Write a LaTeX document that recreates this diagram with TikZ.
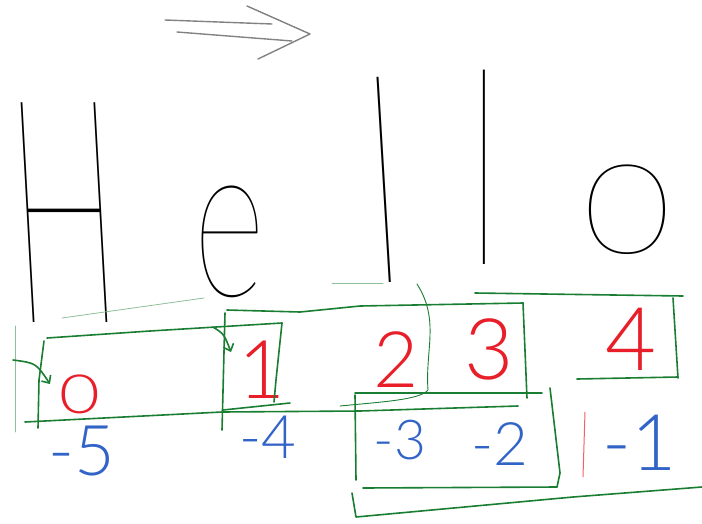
\documentclass[tikz,border=0pt]{standalone}
\usepackage{fontspec}
\usetikzlibrary{arrows.meta}
\IfFontExistsTF{Lato Hairline}{\newfontfamily\hairfont{Lato Hairline}}{\newfontfamily\hairfont{DejaVu Sans}}
\IfFontExistsTF{Lato Light}{\newfontfamily\lightfont{Lato Light}}{\newfontfamily\lightfont{Lato}}
\newcommand{\setsz}[1]{\fontsize{#1}{#1}\selectfont}
\definecolor{inkred}{RGB}{232,30,40}
\definecolor{inkblue}{RGB}{50,100,200}
\definecolor{inkgreen}{RGB}{25,125,50}
\definecolor{inkgray}{RGB}{130,130,130}

\begin{document}
\begin{tikzpicture}[
  x=1pt,y=-1pt,
  letter/.style={inner sep=0pt, transform shape, font=\hairfont},
  idx/.style={inner sep=0pt, transform shape, text=inkred, font=\lightfont},
  neg/.style={inner sep=0pt, text=inkblue, font=\lightfont},
  ink/.style={draw=inkgreen, line width=1.6pt, line cap=round, line join=round},
  faint/.style={draw=inkgreen!50, line width=0.8pt, line cap=round},
  hook/.style={ink, -{Straight Barb[length=6pt,width=11pt]}},
  arrowink/.style={draw=inkgray, line width=1.4pt, line cap=round, line join=round}
]
\useasboundingbox (0,0) rectangle (702,523);

% -------------------------
% direction of reading
% -------------------------
\draw[arrowink] (165,20) -- (272,24);
\draw[arrowink] (177,32) -- (292,41);
\draw[arrowink] (247,6) -- (310,34) -- (258,59);

% -------------------------
% the word
% -------------------------
\node[letter, xscale=0.46, xslant=-0.12] (L_H) at (64,213) {\setsz{314}H};
\node[letter, xscale=0.63] (L_e) at (230,242) {\setsz{222}e};
\node[letter, xscale=0.6, xslant=-0.1] (L_l1) at (384,180) {\setsz{285}l};
\node[letter, xscale=0.6] (L_l2) at (484,167) {\setsz{270}l};
\node[letter] (L_o) at (627,210) {\setsz{178}o};

% -------------------------
% indices from the front
% -------------------------
\node[idx, xscale=1.3] (i0) at (80,394) {\setsz{54}0};
\node[idx] (i1) at (262,370) {\setsz{81}1};
\node[idx] (i2) at (396,360) {\setsz{78}2};
\node[idx] (i3) at (489,349) {\setsz{85}3};
\node[idx] (i4) at (631,339) {\setsz{88}4};

% -------------------------
% indices from the back
% -------------------------
\node[neg] (n5) at (82,451) {\setsz{70}-5};
\node[neg] (n4) at (268,437) {\setsz{60}-4};
\node[neg] (n3) at (400,440) {\setsz{55}-3};
\node[neg] (n2) at (500,444) {\setsz{60}-2};
\node[neg] (n1) at (640,443) {\setsz{78}-1};

% -------------------------
% slices
% -------------------------
\draw[faint] (62,318) -- (204,298);
\draw[faint] (332,283) -- (383,283);
\draw[faint] (15,326) -- (15,432);

% [0:...]
\draw[ink] (47,338) -- (150,331) -- (282,323);
\draw[ink] (44,341) -- (39,380) -- (38,428);
\draw[ink] (25,422) -- (222,412) -- (360,411) -- (518,406);
\draw[hook] (13,360) .. controls (36,363) .. (50,384);

% [1:...]
\draw[ink] (225,313) -- (222,430);
\draw[ink] (282,323) -- (276,380) -- (274,402);
\draw[ink] (223,410) -- (290,403);
\draw[ink] (227,310) -- (300,312) -- (360,306) -- (523,303);
\draw[ink] (523,303) -- (527,398);
\draw[hook] (213,327) .. controls (224,334) .. (231,352);
\draw[ink, line width=0.9pt] (417,284) .. controls (440,320) and (425,350) .. (428,390)
  .. controls (420,400) and (380,402) .. (340,406);

% [-3:-1]
\draw[ink] (355,393) -- (542,393);
\draw[ink] (355,395) -- (356,480);
\draw[ink] (550,388) -- (560,473) -- (557,487);
\draw[ink] (363,488) -- (557,487);
\draw[ink] (352,493) -- (356,517) -- (573,497) -- (702,487);

% [4]
\draw[ink] (475,293) -- (683,296);
\draw[ink] (673,298) -- (678,378);
\draw[ink] (577,379) -- (678,377);
\draw[draw=inkred!70, line width=1pt] (585,412) -- (583,477);

\end{tikzpicture}
\end{document}
